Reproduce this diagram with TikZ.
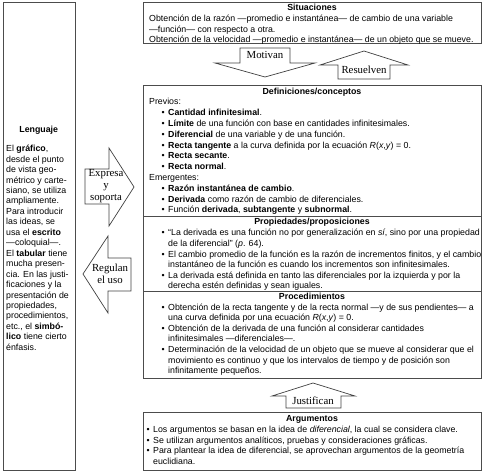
\documentclass[tikz,border=0pt]{standalone}
\usepackage{fontspec}
\setmainfont{Liberation Sans}
\newfontfamily\timesf{Liberation Serif}
\usetikzlibrary{positioning}

\newcommand{\bul}[1][12.5pt]{\hspace*{#1}\makebox[6.5pt][l]{\textbullet}}
\newcommand{\cont}[1][12.5pt]{\hspace*{\dimexpr#1+6.5pt\relax}}
\newcommand{\Rxy}{\textit{R}(\textit{x},\textit{y}) = 0}

\begin{document}
\begin{tikzpicture}[x=1pt,y=-1pt,
		box/.style={draw=black!70,line width=0.7pt,inner sep=0pt,anchor=north west},
		rule/.style={draw=black!70,line width=0.7pt},
		txt/.style={inner sep=0pt,anchor=north west,align=left,font=\fontsize{8.8}{10.75}\selectfont},
		title/.style={inner sep=0pt,anchor=base,font=\fontsize{8.8}{10.75}\selectfont\bfseries},
		blockarrow/.style={draw=black!75,line width=0.7pt,line join=miter},
		verb/.style={inner sep=0pt,align=center,font=\timesf\fontsize{10.8}{12}\selectfont}]
	\useasboundingbox (0,0) rectangle (483,474);
			\node[box,minimum width=71.5pt,minimum height=468pt] (lenguaje) at (3,2) {};
			\node[title] (tlen) at (38.7,132) {Lenguaje};
			\node[txt,font=\fontsize{8.8}{10.45}\selectfont] (plen) at (6,144.2) {\strut El \textbf{gráfico},\\desde el punto\\de vista geo-\\métrico y carte-\\siano, se utiliza\\ampliamente.\\Para introducir\\las ideas, se\\usa el \textbf{escrito}\\—coloquial—.\\El \textbf{tabular} tiene\\mucha presen-\\cia. En las justi-\\ficaciones y la\\presentación de\\propiedades,\\procedimientos,\\etc., el \textbf{simbó-}\\\textbf{lico} tiene cierto\\énfasis.};
			\node[box,minimum width=338pt,minimum height=41.8pt] (situaciones) at (143,1.5) {};
			\node[title] (tsit) at (312,10.3) {Situaciones};
			\node[txt,font=\fontsize{8.8}{10.4}\selectfont] (psit) at (149,14.3) {\strut Obtención de la razón —promedio e instantánea— de cambio de una variable\\—función— con respecto a otra.\\Obtención de la velocidad —promedio e instantánea— de un objeto que se mueve.};
			\draw[blockarrow] (240,48) -- (290,48) -- (290,63) -- (315,63) -- (265,77) -- (215,63) -- (240,63) -- cycle;
				\node[verb] (motivan) at (265,55) {Motivan};
			\draw[blockarrow] (338,79) -- (338,65) -- (320,65) -- (364,51) -- (408,65) -- (390,65) -- (390,79) -- cycle;
				\node[verb] (resuelven) at (364,70) {Resuelven};
			\node[box,minimum width=338pt,minimum height=293pt] (definiciones) at (143,84.5) {};
			\node[title] (tdef) at (312,94) {Definiciones/conceptos};
			\node[txt,font=\fontsize{8.8}{10.8}\selectfont] (pdef) at (149,97.2) {\strut Previos:\\\bul\textbf{Cantidad infinitesimal}.\\\bul\textbf{Límite} de una función con base en cantidades infinitesimales.\\\bul\textbf{Diferencial} de una variable y de una función.\\\bul\textbf{Recta tangente} a la curva definida por la ecuación \Rxy.\\\bul\textbf{Recta secante}.\\\bul\textbf{Recta normal}.\\Emergentes:\\\bul\textbf{Razón instantánea de cambio}.\\\bul\textbf{Derivada} como razón de cambio de diferenciales.\\\bul Función \textbf{derivada}, \textbf{subtangente} y \textbf{subnormal}.};
			\draw[rule] (definiciones.west |- 0,216) -- (definiciones.east |- 0,216);
			\node[title] (tprop) at (312,224.7) {Propiedades/proposiciones};
			\node[txt,font=\fontsize{8.8}{10.6}\selectfont] (pprop) at (149,228.2) {\strut\bul“La derivada es una función no por generalización en \textit{sí}, sino por una propiedad\\\cont de la diferencial” (\textit{p}. 64).\\\bul El cambio promedio de la función es la razón de incrementos finitos, y el cambio\\\cont instantáneo de la función es cuando los incrementos son infinitesimales.\\\bul La derivada está definida en tanto las diferenciales por la izquierda y por la\\\cont derecha estén definidas y sean iguales.};
			\draw[rule] (definiciones.west |- 0,291.5) -- (definiciones.east |- 0,291.5);
			\node[title] (tproc) at (312,299.7) {Procedimientos};
			\node[txt,font=\fontsize{8.8}{10.6}\selectfont] (pproc) at (149,302.5) {\strut\bul Obtención de la recta tangente y de la recta normal —y de sus pendientes— a\\\cont una curva definida por una ecuación \Rxy.\\\bul Obtención de la derivada de una función al considerar cantidades\\\cont infinitesimales —diferenciales—.\\\bul Determinación de la velocidad de un objeto que se mueve al considerar que el\\\cont movimiento es continuo y que los intervalos de tiempo y de posición son\\\cont infinitamente pequeños.};
			\draw[blockarrow] (286,408) -- (286,396) -- (272,396) -- (313,383) -- (355,396) -- (341,396) -- (341,408) -- cycle;
				\node[verb] (justifican) at (313,401) {Justifican};
			\node[box,minimum width=338pt,minimum height=58pt] (argumentos) at (143,412) {};
			\node[title] (targ) at (312,421) {Argumentos};
			\node[txt,font=\fontsize{8.8}{10.5}\selectfont] (parg) at (146.5,425) {\strut\bul[0pt]Los argumentos se basan en la idea de \textit{diferencial}, la cual se considera clave.\\\bul[0pt]Se utilizan argumentos analíticos, pruebas y consideraciones gráficas.\\\bul[0pt]Para plantear la idea de diferencial, se aprovechan argumentos de la geometría\\\cont[0pt]euclidiana.};
			\draw[blockarrow] (85,169) -- (109,169) -- (109,148) -- (134,187) -- (109,226) -- (109,204) -- (85,204) -- cycle;
				\node[verb] (expresa) at (106,186) {Expresa\\y\\soporta};
			\draw[blockarrow] (131,258) -- (108,258) -- (108,236) -- (83,274) -- (108,313) -- (108,291) -- (131,291) -- cycle;
				\node[verb] (regulan) at (110,274) {Regulan\\el uso};
		\end{tikzpicture}
\end{document}
